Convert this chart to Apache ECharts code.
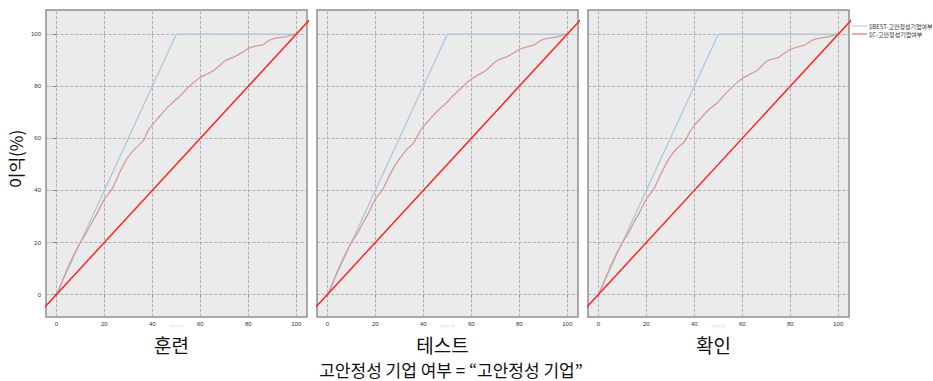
<!DOCTYPE html>
<html><head><meta charset="utf-8">
<script src="https://cdn.jsdelivr.net/npm/echarts@6/dist/echarts.min.js"></script>
<style>html,body{margin:0;padding:0;background:#fff}#c{width:933px;height:381px}</style>
</head><body><div id="c"></div>
<script>
// ---- data ----
const panels = ['훈련', '테스트', '확인'];
const xTicks = [0, 20, 40, 60, 80, 100];
const yTicks = [0, 20, 40, 60, 80, 100];
const bestName = '$BEST-고안정성기업여부';
const modelName = '$C-고안정성기업여부';
const bestGain = [[0, 0], [50, 100], [100, 100]];
const baseline = [[-10, -10], [110, 110]];
const gainTrain = [[0.7,0.9],[5,10.8],[10,20],[12,22.9],[15,28],[17,31.2],[20,36.6],[23,40.2],[25,44],[27,48],[30,53],[33,56.2],[36.5,59.4],[38,62.6],[40,65.2],[43,68.4],[46,71.6],[50,75],[52,76.7],[55,79.6],[58,82],[60,83.4],[63,84.8],[66,86.3],[70,89.5],[72,90.5],[75,91.7],[78,93.3],[80,94.5],[83,95.4],[86,95.9],[88,97.2],[90,98.1],[93,98.7],[96,99.1],[98,99.7],[100,100]];
const gainTest = [[0.7,0.9],[5,10.6],[10,20],[12,22.7],[15,27.8],[17,31],[20,36.7],[23,40.2],[25,44],[27,47.6],[30,52],[33,55.6],[36,58.3],[38,61.6],[40,64.5],[43,67.6],[46,70.6],[50,74],[52,76],[55,78.6],[58,81.3],[60,82.7],[63,84.5],[66,86],[70,89.3],[72,90.4],[75,91.4],[78,93],[80,94.2],[83,95.1],[86,95.8],[88,97],[90,98],[93,98.6],[96,99],[98,99.6],[100,100]];
const gainValid = [[0.7,0.9],[5,10.7],[10,20],[12,22.8],[15,28],[17,31.2],[20,36.6],[23,40.4],[25,44.2],[27,48],[30,53],[33,56.3],[36,58.8],[38,62.3],[40,65],[43,68],[46,71],[50,74],[52,76.2],[55,79],[58,81.6],[60,83],[63,84.6],[66,86],[70,89.5],[72,90.3],[75,91],[78,93],[80,94.2],[83,95.1],[86,95.8],[88,97],[90,98],[93,98.6],[96,99],[98,99.6],[100,100]];
const gains = [gainTrain, gainTest, gainValid];
const xTitle = '고안정성 기업 여부 = “고안정성 기업”';
const yTitle = '이익(%)';

// ---- layout ----
const gridLefts = [46, 317, 588];
const gridW = 261, gridTop = 10, gridH = 307;
const chart = echarts.init(document.getElementById('c'), null, {renderer: 'svg'});
const grids = [], xAxes = [], yAxes = [], series = [];
const gridLineStyle = {type: 'dashed', color: '#a3a3a3', width: 0.8};
panels.forEach((p, i) => {
  grids.push({left: gridLefts[i], top: gridTop, width: gridW, height: gridH, show: true,
    backgroundColor: '#ebebeb', borderColor: '#8f8f8f', borderWidth: 1.5});
  xAxes.push({gridIndex: i, type: 'value', min: -4.3, max: 104.5,
    axisLine: {show: false}, splitLine: {show: false},
    axisTick: {show: true, customValues: xTicks, length: 3, lineStyle: {color: '#555', width: 0.8}},
    axisLabel: {customValues: xTicks, fontSize: 6, color: '#333', margin: 4, fontFamily: 'Arial'},
    name: '백분위', nameLocation: 'middle', nameGap: 6, nameMoveOverlap: false,
    nameTextStyle: {color: '#e4e4e4', fontSize: 5, lineHeight: 5}});
  yAxes.push({gridIndex: i, type: 'value', min: -8.6, max: 109.3,
    axisLine: {show: false}, splitLine: {show: false},
    axisTick: {show: i === 0, customValues: yTicks, length: 3, lineStyle: {color: '#555', width: 0.8}},
    axisLabel: {show: i === 0, customValues: yTicks, fontSize: 6, color: '#333', margin: 5, fontFamily: 'Arial'}});
  series.push({type: 'line', xAxisIndex: i, yAxisIndex: i, data: [], silent: true, z: 1,
    markLine: {silent: true, symbol: 'none', animation: false, label: {show: false},
      lineStyle: gridLineStyle,
      data: xTicks.map(v => ({xAxis: v})).concat(yTicks.map(v => ({yAxis: v})))}});
  series.push({type: 'line', name: bestName, xAxisIndex: i, yAxisIndex: i, data: bestGain,
    showSymbol: false, z: 10, lineStyle: {color: '#a9c9dc', width: 1.3}, itemStyle: {color: '#a9c9dc'}});
  series.push({type: 'line', name: modelName, xAxisIndex: i, yAxisIndex: i, data: gains[i],
    showSymbol: false, smooth: 0.3, z: 11, lineStyle: {color: '#d69a9c', width: 1.3}, itemStyle: {color: '#e05050'}});
  series.push({type: 'line', xAxisIndex: i, yAxisIndex: i, data: baseline, clip: true,
    showSymbol: false, z: 12, lineStyle: {color: '#ff2424', width: 1.5}});
});
const font = '"Noto Sans CJK KR", sans-serif';
const graphics = panels.map((p, i) => ({type: 'text', x: gridLefts[i] + gridW / 2 - 5, y: 344,
  style: {text: p, fontSize: 19, lineHeight: 18, fontFamily: font, fill: '#111', align: 'center', verticalAlign: 'middle'}}));
graphics.push({type: 'text', x: 451, y: 369,
  style: {text: xTitle, fontSize: 17, lineHeight: 16, fontFamily: font, fill: '#111', align: 'center', verticalAlign: 'middle'}});
graphics.push({type: 'text', x: 15, y: 159, rotation: Math.PI / 2,
  style: {text: yTitle, fontSize: 17, fontFamily: font, fill: '#111', align: 'center', verticalAlign: 'middle'}});

chart.setOption({
  animation: false,
  grid: grids, xAxis: xAxes, yAxis: yAxes, series: series,
  legend: {data: [bestName, modelName], orient: 'vertical', left: 852, top: 23, padding: 0,
    icon: 'rect', itemWidth: 15, itemHeight: 1, itemGap: 2,
    textStyle: {fontSize: 6, color: '#333', fontFamily: font, padding: [0, 0, 0, -3], overflow: 'none'}},
  graphic: graphics
});
</script></body></html>
